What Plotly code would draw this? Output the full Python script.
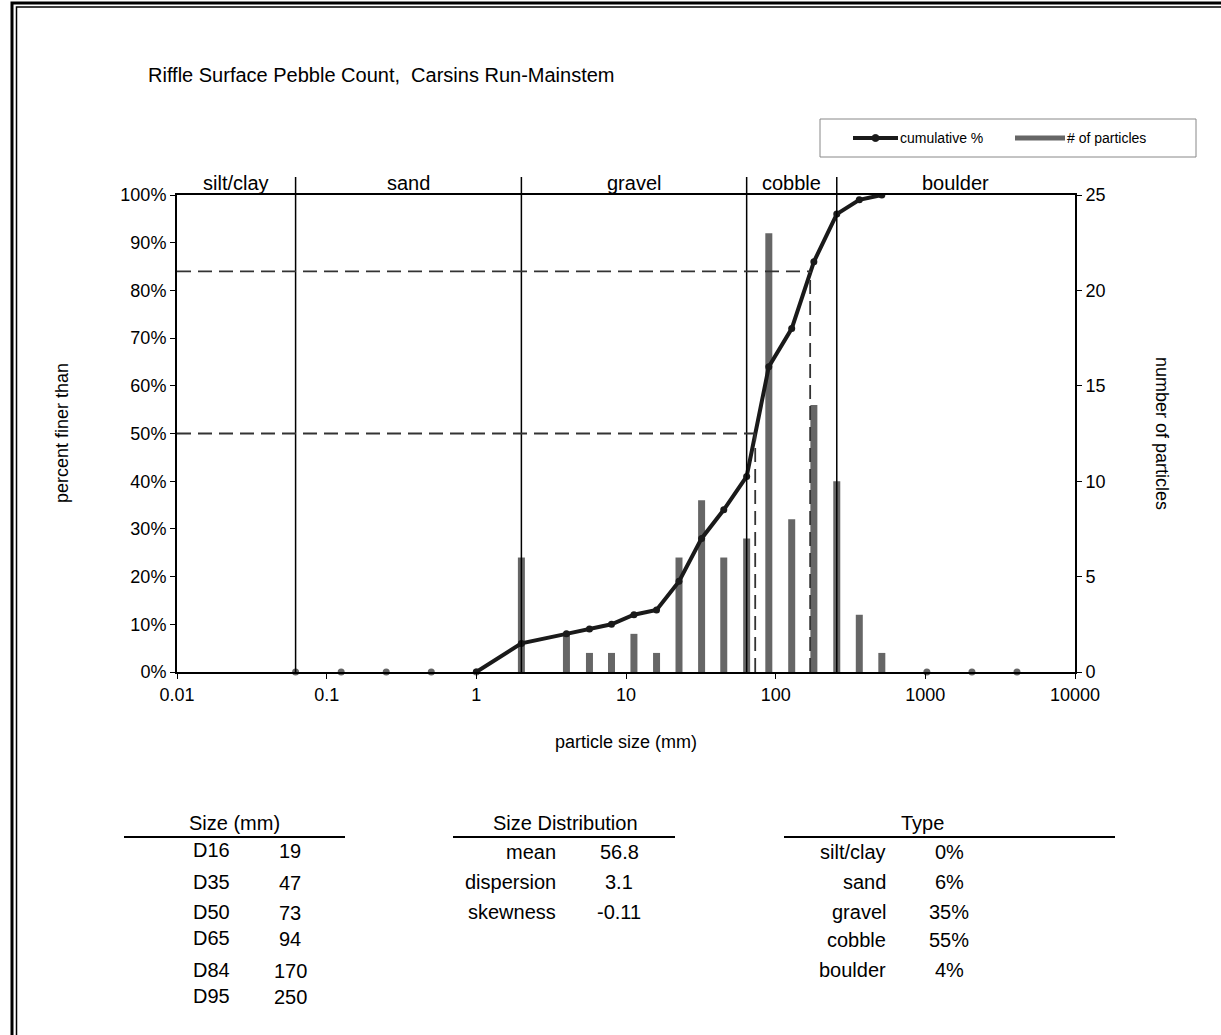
import numpy as np
import plotly.graph_objects as go

# ---------------- data ----------------
sizes_mm = [0.062, 0.125, 0.25, 0.5, 1, 2, 4, 5.7, 8, 11.3, 16, 22.6, 32, 45,
            64, 90, 128, 180, 256, 362, 512, 1024, 2048, 4096]
particle_counts = [0, 0, 0, 0, 0, 6, 2, 1, 1, 2, 1, 6, 9, 6,
                   7, 23, 8, 14, 10, 3, 1, 0, 0, 0]
cum_sizes = [1, 2, 4, 5.7, 8, 11.3, 16, 22.6, 32, 45, 64, 90, 128, 180, 256, 362, 512]
cum_percent = [0, 6, 8, 9, 10, 12, 13, 19, 28, 34, 41, 64, 72, 86, 96, 99, 100]

class_edges = [0.01, 0.062, 2, 64, 256, 10000]
class_names = ["silt/clay", "sand", "gravel", "cobble", "boulder"]

x_tickvals = [0.01, 0.1, 1, 10, 100, 1000, 10000]
x_ticktext = ["0.01", "0.1", "1", "10", "100", "1000", "10000"]
pct_ticks = [0, 10, 20, 30, 40, 50, 60, 70, 80, 90, 100]
count_ticks = [0, 5, 10, 15, 20, 25]

d_labels = ["D16", "D35", "D50", "D65", "D84", "D95"]
d_percent = [16, 35, 50, 65, 84, 95]
d_values = [19, 47, 73, 94, 170, 250]
dashed_percents = [50, 84]

dist_labels = ["mean", "dispersion", "skewness"]
dist_values = ["56.8", "3.1", "-0.11"]

type_labels = ["silt/clay", "sand", "gravel", "cobble", "boulder"]
type_values = ["0%", "6%", "35%", "55%", "4%"]

# ---------------- layout geometry ----------------
W, H = 1221, 1035
L, R, T, B = 177, 1075, 195, 672
FONT = "Liberation Sans, Arial, sans-serif"
TICK_FS = 18
TABLE_FS = 20


def px(x):
    return (x - L) / (R - L)


def py(y):
    return (B - y) / (B - T)


fig = go.Figure()

# bars (# of particles) as thin vertical strokes
bx, by = [], []
for s, c in zip(sizes_mm, particle_counts):
    if c > 0:
        bx += [s, s, None]
        by += [0, c, None]
fig.add_trace(go.Scatter(x=bx, y=by, mode="lines", yaxis="y",
                         line=dict(color="#666666", width=7),
                         hoverinfo="skip", showlegend=False))
zx = [s for s, c in zip(sizes_mm, particle_counts) if c == 0]
zy = [c for c in particle_counts if c == 0]
fig.add_trace(go.Scatter(x=zx, y=zy, mode="markers", yaxis="y",
                         marker=dict(color="#666666", size=7),
                         cliponaxis=False, hoverinfo="skip", showlegend=False))

# cumulative %
fig.add_trace(go.Scatter(x=cum_sizes, y=cum_percent, mode="lines+markers", yaxis="y2",
                         line=dict(color="#1a1a1a", width=4),
                         marker=dict(color="#1a1a1a", size=7),
                         showlegend=False))

shapes = []
annotations = []


def label(x, y, t, size, xanchor="center", angle=0, xref="paper"):
    annotations.append(dict(x=x, y=y, xref=xref, yref="paper", text=t,
                            showarrow=False, xanchor=xanchor, yanchor="middle",
                            textangle=angle,
                            font=dict(size=size, family=FONT, color="black")))


# class boundary lines
for b in class_edges[1:-1]:
    shapes.append(dict(type="line", xref="x", yref="paper", x0=b, x1=b,
                       y0=0, y1=py(177), line=dict(color="black", width=1.5),
                       layer="above"))
# class labels at geometric midpoints
for i, name in enumerate(class_names):
    mid = (np.log10(class_edges[i]) + np.log10(class_edges[i + 1])) / 2
    label(mid, py(183), name, 20, xref="x")

# dashed D50 / D84 guide lines
for p in dashed_percents:
    dv = d_values[d_percent.index(p)]
    shapes.append(dict(type="line", xref="x", yref="y2", x0=class_edges[0], x1=dv,
                       y0=p, y1=p, line=dict(color="#333333", width=1.8, dash="14px,7px")))
    shapes.append(dict(type="line", xref="x", yref="y2", x0=dv, x1=dv,
                       y0=0, y1=p, line=dict(color="#333333", width=1.8, dash="14px,7px")))

# figure double border (extends past right/bottom edges)
shapes.append(dict(type="rect", xref="paper", yref="paper",
                   x0=px(12), x1=px(W + 20), y0=py(3), y1=py(H + 20),
                   line=dict(color="black", width=3)))
shapes.append(dict(type="rect", xref="paper", yref="paper",
                   x0=px(16.5), x1=px(W + 20), y0=py(7), y1=py(H + 20),
                   line=dict(color="black", width=1.5)))

# legend (manual)
shapes.append(dict(type="rect", xref="paper", yref="paper",
                   x0=px(820), x1=px(1196), y0=py(119), y1=py(157),
                   line=dict(color="#888888", width=1), fillcolor="white"))
shapes.append(dict(type="line", xref="paper", yref="paper",
                   x0=px(853), x1=px(898), y0=py(138), y1=py(138),
                   line=dict(color="#1a1a1a", width=4)))
shapes.append(dict(type="circle", xref="paper", yref="paper",
                   x0=px(872), x1=px(879), y0=py(134.5), y1=py(141.5),
                   line=dict(color="#1a1a1a", width=1), fillcolor="#1a1a1a"))
shapes.append(dict(type="line", xref="paper", yref="paper",
                   x0=px(1015), x1=px(1065), y0=py(138), y1=py(138),
                   line=dict(color="#666666", width=5)))
label(px(898), py(138), "cumulative %", 14, "left")
label(px(1065), py(138), "# of particles", 14, "left")

# title
label(px(146), py(75), "Riffle Surface Pebble Count,\u00a0 Carsins Run-Mainstem", 20, "left")

# axis titles
label(px(62), py(433), "percent finer than", TICK_FS, angle=-90)
label(px(1162), py(433), "number of particles", TICK_FS, angle=90)
label(px(626), py(742), "particle size (mm)", TICK_FS)


def txt(x, y, t, anchor="center"):
    label(px(x), py(y), t, TABLE_FS, anchor)


def hline(x0, x1, y):
    shapes.append(dict(type="line", xref="paper", yref="paper", x0=px(x0), x1=px(x1),
                       y0=py(y), y1=py(y), line=dict(color="black", width=2)))


# table 1: sizes
txt(234, 823, "Size (mm)")
hline(124, 345, 837)
size_rows = [850, 882, 912, 938, 970, 996]
for lab, val, yy in zip(d_labels, d_values, size_rows):
    txt(191, yy, lab, "left")
    txt(290, yy + 1, str(val))

# table 2: distribution
txt(565, 823, "Size Distribution")
hline(453, 675, 837)
dist_rows = [852, 882, 912]
for lab, val, yy in zip(dist_labels, dist_values, dist_rows):
    txt(558, yy, lab, "right")
    txt(619, yy, val)

# table 3: type
txt(922, 823, "Type")
hline(784, 1115, 837)
type_rows = [852, 882, 912, 940, 970]
for lab, val, yy in zip(type_labels, type_values, type_rows):
    txt(888, yy, lab, "right")
    txt(949, yy, val)

axis_common = dict(showgrid=False, zeroline=False, showline=True, linecolor="black",
                   linewidth=2, ticks="outside", ticklen=5, tickcolor="black",
                   tickfont=dict(size=TICK_FS, family=FONT, color="black"))

fig.update_layout(
    width=W, height=H,
    margin=dict(l=L, r=W - R, t=T, b=H - B),
    paper_bgcolor="white", plot_bgcolor="white",
    showlegend=False,
    font=dict(family=FONT, color="black"),
    xaxis=dict(type="log", range=[-2, 4], tickvals=x_tickvals, ticktext=x_ticktext,
               mirror=True, **axis_common),
    yaxis=dict(side="right", range=[0, 25], tickvals=count_ticks, **axis_common),
    yaxis2=dict(side="left", overlaying="y", range=[0, 100], tickvals=pct_ticks,
                ticktext=[f"{v}%" for v in pct_ticks], **axis_common),
    shapes=shapes,
    annotations=annotations,
)

fig.write_html("out.html", config={"displayModeBar": False},
               post_script="document.body.style.margin='0px';")
